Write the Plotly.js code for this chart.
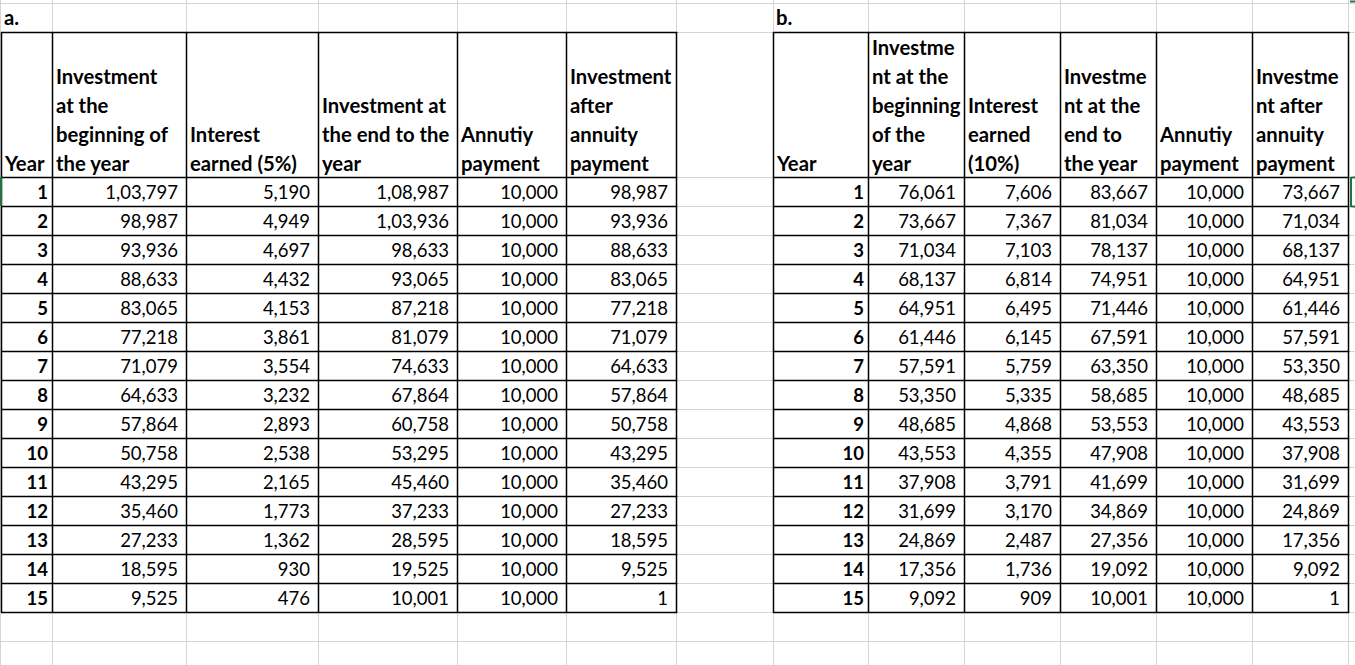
<!DOCTYPE html>
<html><head><meta charset="utf-8">
<script src="https://cdn.plot.ly/plotly-3.0.1.min.js"></script>
<style>html,body{margin:0;padding:0;background:#fff;overflow:hidden}#chart{width:1355px;height:665px}</style>
</head><body><div id="chart"></div>
<script>
// ---------- DATA ----------
const years = [1,2,3,4,5,6,7,8,9,10,11,12,13,14,15];

// a. (5%)
const aBegin    = [103797,98987,93936,88633,83065,77218,71079,64633,57864,50758,43295,35460,27233,18595,9525];
const aInterest = [5190,4949,4697,4432,4153,3861,3554,3232,2893,2538,2165,1773,1362,930,476];
const aEnd      = [108987,103936,98633,93065,87218,81079,74633,67864,60758,53295,45460,37233,28595,19525,10001];
const aAnnuity  = [10000,10000,10000,10000,10000,10000,10000,10000,10000,10000,10000,10000,10000,10000,10000];
const aAfter    = [98987,93936,88633,83065,77218,71079,64633,57864,50758,43295,35460,27233,18595,9525,1];

// b. (10%)
const bBegin    = [76061,73667,71034,68137,64951,61446,57591,53350,48685,43553,37908,31699,24869,17356,9092];
const bInterest = [7606,7367,7103,6814,6495,6145,5759,5335,4868,4355,3791,3170,2487,1736,909];
const bEnd      = [83667,81034,78137,74951,71446,67591,63350,58685,53553,47908,41699,34869,27356,19092,10001];
const bAnnuity  = [10000,10000,10000,10000,10000,10000,10000,10000,10000,10000,10000,10000,10000,10000,10000];
const bAfter    = [73667,71034,68137,64951,61446,57591,53350,48685,43553,37908,31699,24869,17356,9092,1];

const headersA = [["Year"],["Investment","at the","beginning of","the year"],["Interest","earned (5%)"],["Investment at","the end to the","year"],["Annutiy","payment"],["Investment","after","annuity","payment"]];
const headersB = [["Year"],["Investme","nt at the","beginning","of the","year"],["Interest","earned","(10%)"],["Investme","nt at the","end to","the year"],["Annutiy","payment"],["Investme","nt after","annuity","payment"]];
const sectionLabels = ["a.","b."];

// ---------- LAYOUT GEOMETRY ----------
const W = 1355, H = 665;
const colsA = [1,52,186,318,457,566,676];
const colsB = [773,868,964,1060,1156,1252,1348];
const gridCols = [0,52,186,318,457,566,676,773,868,964,1060,1156,1252,1348];
const ROW_H = 29, TOP = 3, HEAD_TOP = 32, HEAD_BOT = 177, NROWS = 15;
const TXT_DY = 3;
const FONT = 'Lato, "Open Sans", sans-serif';
const FS = 18.5;      // numbers
const FS_HEAD = 20.3; // bold header text

function fmtIN(n){
  const s = String(Math.round(n));
  if (s.length <= 3) return s;
  const last3 = s.slice(-3);
  const rest = s.slice(0,-3).replace(/\B(?=(\d{2})+(?!\d))/g, ",");
  return rest + "," + last3;
}
const rowY = i => HEAD_BOT + ROW_H*i + ROW_H/2 + TXT_DY;

const traces = [];
function addTable(cols, cols5, headers, label){
  traces.push({type:'scatter', mode:'text', x:[cols[0]+3], y:[TOP+ROW_H/2+TXT_DY-1], text:[label],
    textposition:'middle right', textfont:{family:FONT,size:FS_HEAD,color:'#000',weight:'bold'}, hoverinfo:'skip', showlegend:false, cliponaxis:false});
  headers.forEach((lines,c)=>{
    const n = lines.length;
    traces.push({type:'scatter', mode:'text',
      x: lines.map(()=>cols[c]+4),
      y: lines.map((_,j)=>HEAD_BOT - ROW_H*(n-j) + ROW_H/2 + TXT_DY),
      text: lines, textposition:'middle right',
      textfont:{family:FONT,size:FS_HEAD,color:'#000',weight:'bold'}, hoverinfo:'skip', showlegend:false, cliponaxis:false});
  });
  traces.push({type:'scatter', mode:'text',
    x: years.map(()=>cols[1]-4), y: years.map((_,i)=>rowY(i)),
    text: years.map(String), textposition:'middle left',
    textfont:{family:FONT,size:FS,color:'#000',weight:'bold'}, hoverinfo:'skip', showlegend:false, cliponaxis:false});
  cols5.forEach((arr,c)=>{
    traces.push({type:'scatter', mode:'text',
      x: arr.map(()=>cols[c+2]-8), y: arr.map((_,i)=>rowY(i)),
      text: arr.map(fmtIN), textposition:'middle left',
      textfont:{family:FONT,size:FS,color:'#000'}, hoverinfo:'skip', showlegend:false, cliponaxis:false});
  });
}
addTable(colsA, [aBegin,aInterest,aEnd,aAnnuity,aAfter], headersA, sectionLabels[0]);
addTable(colsB, [bBegin,bInterest,bEnd,bAnnuity,bAfter], headersB, sectionLabels[1]);

// ---------- SHAPES ----------
const shapes = [];
const GRID = '#d4d4d4';
function ln(x0,y0,x1,y1,color,w){ shapes.push({type:'line',xref:'x',yref:'y',x0,y0,x1,y1,line:{color,width:w},layer:'below'}); }
gridCols.forEach(x=>ln(x+0.5,0,x+0.5,H,GRID,1));
const gridRows = [TOP, HEAD_TOP];
for(let k=0;k<=NROWS+2;k++) gridRows.push(HEAD_BOT + ROW_H*k);
gridRows.forEach(y=>ln(0,y+0.5,W,y+0.5,GRID,1));
shapes.push({type:'rect',xref:'x',yref:'y',x0:colsA[6]+1.5,x1:colsB[0]-0.5,y0:HEAD_TOP+1.5,y1:HEAD_BOT-0.5,fillcolor:'#fff',line:{width:0},layer:'below'});
function borders(cols){
  const yBot = HEAD_BOT + ROW_H*NROWS;
  cols.forEach(x=>ln(x+0.5,HEAD_TOP,x+0.5,yBot+0.75,'#000',1.5));
  ln(cols[0],HEAD_TOP+0.5,cols[6]+1.25,HEAD_TOP+0.5,'#000',1.5);
  for(let k=0;k<=NROWS;k++) ln(cols[0],HEAD_BOT+ROW_H*k+0.5,cols[6]+1.25,HEAD_BOT+ROW_H*k+0.5,'#000',1.5);
}
borders(colsA); borders(colsB);
const GREEN = '#217346';
ln(1,HEAD_BOT,1,HEAD_BOT+ROW_H,GREEN,2);
ln(1351,HEAD_BOT,1351,HEAD_BOT+ROW_H+1,GREEN,2);
ln(1351,HEAD_BOT+0.5,W,HEAD_BOT+0.5,GREEN,2);
ln(1351,HEAD_BOT+ROW_H+0.5,W,HEAD_BOT+ROW_H+0.5,GREEN,2);
ln(1350,1.5,W,1.5,GREEN,2);

const layout = {
  width:W, height:H, margin:{l:0,r:0,t:0,b:0,pad:0},
  paper_bgcolor:'#fff', plot_bgcolor:'#fff',
  xaxis:{range:[0,W], visible:false, fixedrange:true},
  yaxis:{range:[H,0], visible:false, fixedrange:true},
  showlegend:false, hovermode:false, shapes
};
Plotly.newPlot('chart', traces, layout, {staticPlot:true, displayModeBar:false});
</script></body></html>
